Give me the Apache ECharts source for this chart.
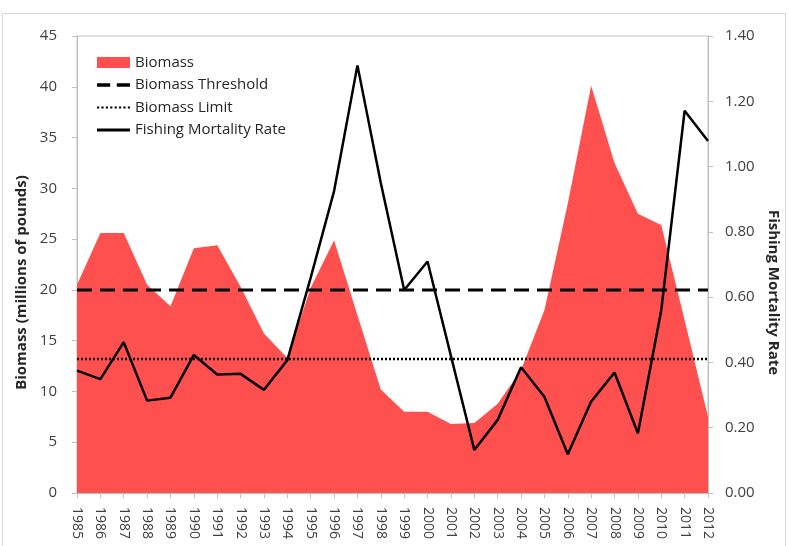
<!DOCTYPE html>
<html>
<head>
<meta charset="utf-8">
<script src="https://cdn.jsdelivr.net/npm/echarts@6/dist/echarts.min.js"></script>
<style>
html,body{margin:0;padding:0;background:#fff;}
#chart{width:789px;height:546px;}
</style>
</head>
<body>
<div id="chart"></div>
<script>
const years = ['1985','1986','1987','1988','1989','1990','1991','1992','1993','1994','1995','1996','1997','1998','1999','2000','2001','2002','2003','2004','2005','2006','2007','2008','2009','2010','2011','2012'];
const biomass = [20.5, 25.6, 25.6, 20.5, 18.4, 24.1, 24.4, 20.3, 15.7, 13.3, 20.2, 24.9, 17.5, 10.2, 8.0, 8.0, 6.8, 6.9, 8.8, 12.1, 18.0, 28.5, 40.1, 32.5, 27.5, 26.4, 17.0, 7.5];
const biomassThreshold = [20,20,20,20,20,20,20,20,20,20,20,20,20,20,20,20,20,20,20,20,20,20,20,20,20,20,20,20];
const biomassLimit = [13.2,13.2,13.2,13.2,13.2,13.2,13.2,13.2,13.2,13.2,13.2,13.2,13.2,13.2,13.2,13.2,13.2,13.2,13.2,13.2,13.2,13.2,13.2,13.2,13.2,13.2,13.2,13.2];
const fishingMortality = [0.375, 0.349, 0.462, 0.283, 0.292, 0.423, 0.363, 0.365, 0.316, 0.407, 0.66, 0.925, 1.31, 0.95, 0.622, 0.709, 0.42, 0.132, 0.224, 0.385, 0.295, 0.119, 0.280, 0.369, 0.183, 0.56, 1.171, 1.078];

const FONT = "'Open Sans', 'Noto Sans', sans-serif";
const TXT = '#404040';
const AXC = '#bfbfbf';

const ICON_DASH = 'path://M0,0H12V3H0Z M18,0H30V3H18Z';
const ICON_DOT = 'path://M0,0H2V2H0Z M4,0H6V2H4Z M8,0H10V2H8Z M12,0H14V2H12Z M16,0H18V2H16Z M20,0H22V2H20Z M24,0H26V2H24Z M28,0H30V2H28Z';
const ICON_SOLID = 'path://M0,0H30V2.6H0Z';

const chart = echarts.init(document.getElementById('chart'), null, {renderer: 'canvas'});
chart.setOption({
  animation: false,
  backgroundColor: '#ffffff',
  textStyle: {fontFamily: FONT},
  graphic: [{
    type: 'rect', silent: true, z: -10,
    shape: {x: 2.5, y: 13.5, width: 783, height: 540},
    style: {fill: 'none', stroke: '#d9d9d9', lineWidth: 1}
  }],
  grid: {left: 77, right: 77, top: 36, bottom: 53, show: true, borderColor: AXC, borderWidth: 1},
  legend: {
    orient: 'vertical', left: 97, top: 55, padding: 0,
    itemWidth: 33, itemHeight: 11, itemGap: 7.5,
    textStyle: {fontFamily: FONT, fontSize: 15, color: '#262626', lineHeight: 15},
    data: [
      {name: 'Biomass', icon: 'rect', itemStyle: {color: '#ff5050'}},
      {name: 'Biomass Threshold', icon: ICON_DASH, itemStyle: {color: '#000'}},
      {name: 'Biomass Limit', icon: ICON_DOT, itemStyle: {color: '#000'}},
      {name: 'Fishing Mortality Rate', icon: ICON_SOLID, itemStyle: {color: '#000'}}
    ]
  },
  xAxis: {
    type: 'category', data: years, boundaryGap: false,
    axisLine: {lineStyle: {color: AXC, width: 1}},
    axisTick: {show: true, length: 5, lineStyle: {color: AXC}},
    axisLabel: {rotate: -90, interval: 0, fontSize: 14, color: TXT, fontFamily: FONT, margin: 14},
    splitLine: {show: false}
  },
  yAxis: [{
    type: 'value', min: 0, max: 45, interval: 5, position: 'left',
    name: 'Biomass (millions of pounds)', nameLocation: 'middle', nameGap: 48, nameRotate: 90,
    nameTextStyle: {fontFamily: FONT, fontSize: 15, fontWeight: 'bold', color: '#262626', padding: [0, 0, 0, -36]},
    axisLine: {show: true, lineStyle: {color: AXC}},
    axisTick: {show: true, length: 5, lineStyle: {color: AXC}},
    axisLabel: {fontSize: 15, color: TXT, fontFamily: FONT, margin: 20},
    splitLine: {show: false}
  }, {
    type: 'value', min: 0, max: 1.4, interval: 0.2, position: 'right',
    name: 'Fishing Mortality Rate', nameLocation: 'middle', nameGap: 58, nameRotate: -90,
    nameTextStyle: {fontFamily: FONT, fontSize: 15, fontWeight: 'bold', color: '#262626', padding: [0, 0, 0, 56]},
    axisLine: {show: true, lineStyle: {color: AXC}},
    axisTick: {show: true, length: 5, lineStyle: {color: AXC}},
    axisLabel: {fontSize: 15, color: TXT, fontFamily: FONT, margin: 17, formatter: v => v.toFixed(2)},
    splitLine: {show: false}
  }],
  series: [{
    name: 'Biomass', type: 'line', data: biomass, yAxisIndex: 0,
    symbol: 'none', lineStyle: {width: 0, color: '#ff5050'},
    itemStyle: {color: '#ff5050'},
    areaStyle: {color: '#ff5050', opacity: 1}, z: 1
  }, {
    name: 'Biomass Threshold', type: 'line', data: biomassThreshold, yAxisIndex: 0,
    symbol: 'none', itemStyle: {color: '#000'},
    lineStyle: {color: '#000', width: 3, type: [15, 8]}, z: 3
  }, {
    name: 'Biomass Limit', type: 'line', data: biomassLimit, yAxisIndex: 0,
    symbol: 'none', itemStyle: {color: '#000'},
    lineStyle: {color: '#000', width: 2.5, type: [2, 2]}, z: 3
  }, {
    name: 'Fishing Mortality Rate', type: 'line', data: fishingMortality, yAxisIndex: 1,
    symbol: 'none', itemStyle: {color: '#000'},
    lineStyle: {color: '#000', width: 2.5}, z: 4
  }]
});
</script>
</body>
</html>
